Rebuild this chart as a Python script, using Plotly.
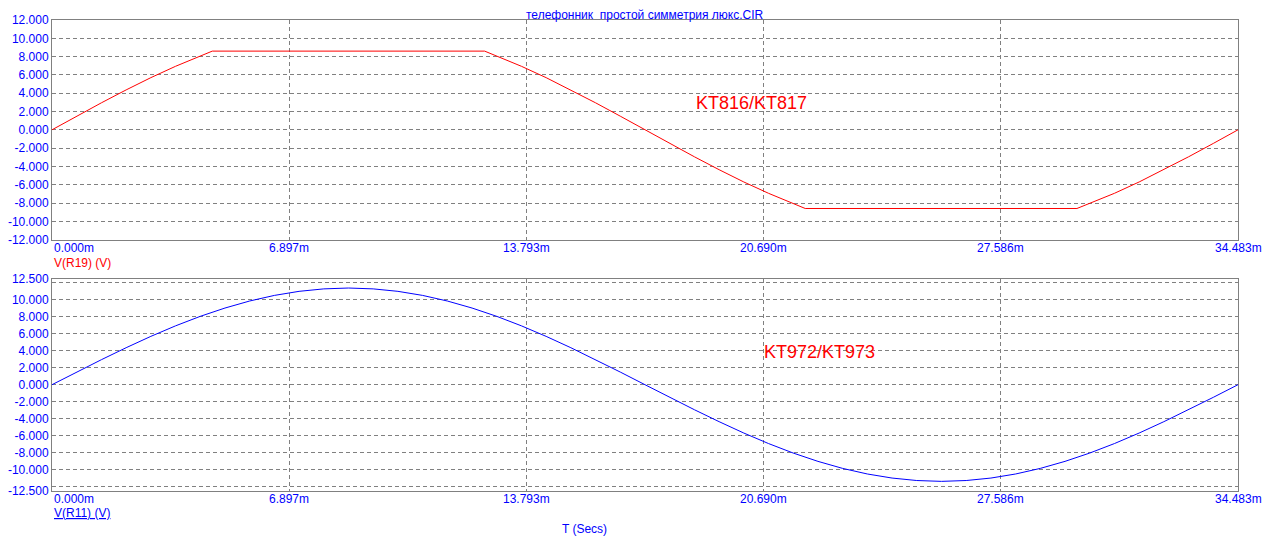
import plotly.graph_objects as go

# ---- data (time in ms, voltage in V) ----
t_top = [0.0, 0.718, 1.437, 2.155, 2.874, 3.592, 4.310, 4.66, 12.58, 12.931, 13.649,
         14.367, 15.086, 15.804, 16.522, 17.241, 17.959, 18.678, 19.396, 20.114,
         20.833, 21.551, 21.90, 29.80, 30.172, 30.891, 31.609, 32.328, 33.046,
         33.765, 34.483]
v_r19 = [0.0, 1.49, 2.95, 4.36, 5.70, 6.94, 8.06, 8.60, 8.60, 8.06, 6.94,
         5.70, 4.36, 2.95, 1.49, 0.0, -1.49, -2.95, -4.36, -5.70,
         -6.94, -8.06, -8.60, -8.60, -8.06, -6.94, -5.70, -4.36, -2.95,
         -1.49, 0.0]

t_bot = [0.0, 0.718, 1.437, 2.155, 2.874, 3.592, 4.310, 5.029, 5.747, 6.466, 7.184,
         7.902, 8.621, 9.339, 10.057, 10.776, 11.494, 12.213, 12.931, 13.649,
         14.367, 15.086, 15.804, 16.522, 17.241, 17.959, 18.678, 19.396, 20.114,
         20.833, 21.551, 22.270, 22.988, 23.707, 24.425, 25.143, 25.862, 26.580,
         27.299, 28.017, 28.735, 29.454, 30.172, 30.891, 31.609, 32.328, 33.046,
         33.765, 34.483]
v_r11 = [0.0, 1.49, 2.95, 4.36, 5.70, 6.94, 8.06, 9.04, 9.87, 10.53, 11.01,
         11.30, 11.40, 11.30, 11.01, 10.53, 9.87, 9.04, 8.06, 6.94,
         5.70, 4.36, 2.95, 1.49, 0.0, -1.49, -2.95, -4.36, -5.70,
         -6.94, -8.06, -9.04, -9.87, -10.53, -11.01, -11.30, -11.40, -11.30,
         -11.01, -10.53, -9.87, -9.04, -8.06, -6.94, -5.70, -4.36, -2.95,
         -1.49, 0.0]

x_ticks = [0.0, 6.897, 13.793, 20.690, 27.586, 34.483]
x_tick_text = ["0.000m", "6.897m", "13.793m", "20.690m", "27.586m", "34.483m"]
y1_ticks = [-12, -10, -8, -6, -4, -2, 0, 2, 4, 6, 8, 10, 12]
y2_ticks = [-12.5, -12, -10, -8, -6, -4, -2, 0, 2, 4, 6, 8, 10, 12, 12.5]

title_text = "телефонник  простой симметрия люкс.CIR"
label_top = "V(R19) (V)"
label_bot = "V(R11) (V)"
x_title = "T (Secs)"
note_top = "KT816/KT817"
note_bot = "KT972/KT973"

# ---- layout geometry (page body has an 8px margin) ----
OFF = 8
W, H = 1270 - OFF, 549 - OFF
ML, MR = 52 - OFF, 32
PW = W - ML - MR
FONT = "Liberation Sans, Arial, sans-serif"
BLUE = "#0000ff"
RED = "#ff0000"
GRID = "#808080"


def px(x):
    return (x - OFF - ML) / PW


def py(y):
    return 1 - (y - OFF) / H


fig = go.Figure()
fig.add_trace(go.Scatter(x=t_top, y=v_r19, mode="lines",
                         line=dict(color=RED, width=1), xaxis="x", yaxis="y",
                         showlegend=False, hoverinfo="skip"))
fig.add_trace(go.Scatter(x=t_bot, y=v_r11, mode="lines",
                         line=dict(color=BLUE, width=1), xaxis="x2", yaxis="y2",
                         showlegend=False, hoverinfo="skip"))

xcommon = dict(range=[0, 34.483], tickvals=x_ticks, showticklabels=False,
               showgrid=True, gridcolor=GRID, griddash="4px,3px", gridwidth=1,
               zeroline=False, showline=True, mirror=True, linecolor=GRID,
               linewidth=1, ticks="", automargin=False, fixedrange=True)
ycommon = dict(showgrid=True, gridcolor=GRID, griddash="4px,3px", gridwidth=1,
               zeroline=False, showline=True, mirror=True, linecolor=GRID,
               linewidth=1, ticks="", automargin=False,
               tickfont=dict(family=FONT, size=12, color=BLUE), fixedrange=True)

fig.update_layout(
    width=W, height=H,
    margin=dict(l=ML, r=MR, t=0, b=0),
    paper_bgcolor="white", plot_bgcolor="white",
    template="none",
    xaxis=dict(anchor="y", domain=[0, 1], **xcommon),
    xaxis2=dict(anchor="y2", domain=[0, 1], **xcommon),
    yaxis=dict(anchor="x", domain=[py(239.6), py(20)], range=[-12, 12],
               tickvals=y1_ticks, ticktext=["%.3f" % v for v in y1_ticks],
               **ycommon),
    yaxis2=dict(anchor="x2", domain=[py(490.7), py(278.7)], range=[-12.5, 12.5],
                tickvals=y2_ticks,
                ticktext=["" if abs(v) == 12 else "%.3f" % v for v in y2_ticks],
                **ycommon),
)

ann = []
for xr, yr in (("x", "y domain"), ("x2", "y2 domain")):
    for i, (tv, tt) in enumerate(zip(x_ticks, x_tick_text)):
        ann.append(dict(x=tv, y=0, xref=xr, yref=yr, text=tt, showarrow=False,
                        xanchor="left" if i == 0 else "center", yanchor="middle",
                        yshift=-8, font=dict(family=FONT, size=12, color=BLUE)))

ann += [
    dict(x=px(645), y=py(15.5), xref="paper", yref="paper", text=title_text,
         showarrow=False, xanchor="center", yanchor="middle",
         font=dict(family=FONT, size=12, color=BLUE)),
    dict(x=px(52), y=py(262.5), xref="paper", yref="paper", text=label_top,
         showarrow=False, xanchor="left", yanchor="middle",
         font=dict(family=FONT, size=12, color=RED)),
    dict(x=px(52), y=py(513), xref="paper", yref="paper", text="<u>" + label_bot + "</u>",
         showarrow=False, xanchor="left", yanchor="middle",
         font=dict(family=FONT, size=12, color=BLUE)),
    dict(x=px(584), y=py(528.5), xref="paper", yref="paper", text=x_title,
         showarrow=False, xanchor="center", yanchor="middle",
         font=dict(family=FONT, size=12, color=BLUE)),
    dict(x=px(751), y=py(103), xref="paper", yref="paper", text=note_top,
         showarrow=False, xanchor="center", yanchor="middle",
         font=dict(family=FONT, size=18, color=RED)),
    dict(x=px(819), y=py(351.5), xref="paper", yref="paper", text=note_bot,
         showarrow=False, xanchor="center", yanchor="middle",
         font=dict(family=FONT, size=18, color=RED)),
]
fig.update_layout(annotations=ann)

fig.write_html("out.html", config={"displayModeBar": False})
